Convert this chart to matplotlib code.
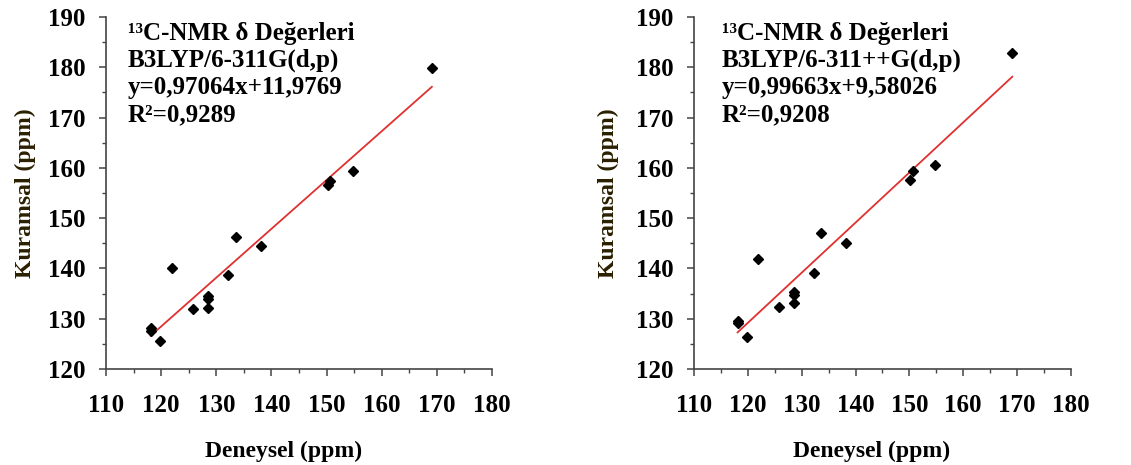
import matplotlib
matplotlib.use("Agg")
import matplotlib.pyplot as plt
import numpy as np
from matplotlib.ticker import MultipleLocator

# experimental shifts (ppm), shared by both panels
deneysel = [118.1, 118.1, 119.8, 121.9, 125.7, 128.5, 128.5, 128.5,
            132.2, 133.6, 138.2, 150.2, 150.7, 154.8, 169.1]

# calculated shifts (ppm)
kuramsal_311g = [127.6, 128.2, 125.5, 140.0, 132.0, 134.5, 133.9, 132.1,
                 138.7, 146.3, 144.5, 156.6, 157.3, 159.3, 179.9]
kuramsal_311ppg = [129.2, 129.5, 126.3, 141.8, 132.3, 135.3, 134.8, 133.2,
                   139.1, 147.0, 145.0, 157.5, 159.3, 160.5, 182.8]

# fit coefficients as printed on the chart
fit_311g = (0.97064, 11.9769)
fit_311ppg = (0.99663, 9.58026)

labels_311g = ["¹³C-NMR δ Değerleri", "B3LYP/6-311G(d,p)",
               "y=0,97064x+11,9769", "R²=0,9289"]
labels_311ppg = ["¹³C-NMR δ Değerleri", "B3LYP/6-311++G(d,p)",
                 "y=0,99663x+9,58026", "R²=0,9208"]

plt.rcParams['font.family'] = ['Liberation Serif', 'DejaVu Serif']
plt.rcParams['font.weight'] = 'bold'

fig = plt.figure(figsize=(11.31, 4.65), dpi=100)


def draw_panel(rect, x, y, fit, lines, text_x, ylab_pad, xlab_x):
    ax = fig.add_axes(rect)
    x = np.array(x)
    y = np.array(y)
    ax.plot(x, y, linestyle='none', marker='D', markersize=5,
            color='black', zorder=3)
    xs = np.array([x.min(), x.max()])
    ax.plot(xs, fit[0] * xs + fit[1], color='#e03030', linewidth=1.3)

    ax.set_xlim(110, 180)
    ax.set_ylim(120, 190)
    ax.xaxis.set_major_locator(MultipleLocator(10))
    ax.xaxis.set_minor_locator(MultipleLocator(5))
    ax.yaxis.set_major_locator(MultipleLocator(10))
    ax.yaxis.set_minor_locator(MultipleLocator(5))
    for s in ['top', 'right']:
        ax.spines[s].set_visible(False)
    for s in ['left', 'bottom']:
        ax.spines[s].set_color('#444444')
        ax.spines[s].set_linewidth(1.2)
    ax.tick_params(which='major', length=5, width=1.1, color='#444444',
                   labelsize=18)
    ax.tick_params(axis='x', which='major', pad=13)
    ax.tick_params(axis='y', which='major', pad=10)
    ax.tick_params(which='minor', length=3, width=1.0, color='#444444')
    for lab in ax.get_xticklabels() + ax.get_yticklabels():
        lab.set_fontweight('bold')

    ax.set_xlabel('Deneysel (ppm)', fontsize=17, fontweight='bold', labelpad=17)
    ax.xaxis.label.set_x(xlab_x)
    ax.set_ylabel('Kuramsal (ppm)', fontsize=17, fontweight='bold',
                  labelpad=ylab_pad, color='#2a2000')

    for i, t in enumerate(lines):
        ax.text(text_x, 0.935 - i * 0.077, t, transform=ax.transAxes,
                fontsize=18, fontweight='bold', va='baseline', ha='left')
    return ax


draw_panel([0.0937, 0.2065, 0.3413, 0.757], deneysel, kuramsal_311g,
           fit_311g, labels_311g, 0.057, 8, 0.46)
draw_panel([0.6136, 0.2065, 0.3333, 0.757], deneysel, kuramsal_311ppg,
           fit_311ppg, labels_311ppg, 0.074, 12, 0.47)

fig.savefig('out.png', dpi=100, facecolor='white')
